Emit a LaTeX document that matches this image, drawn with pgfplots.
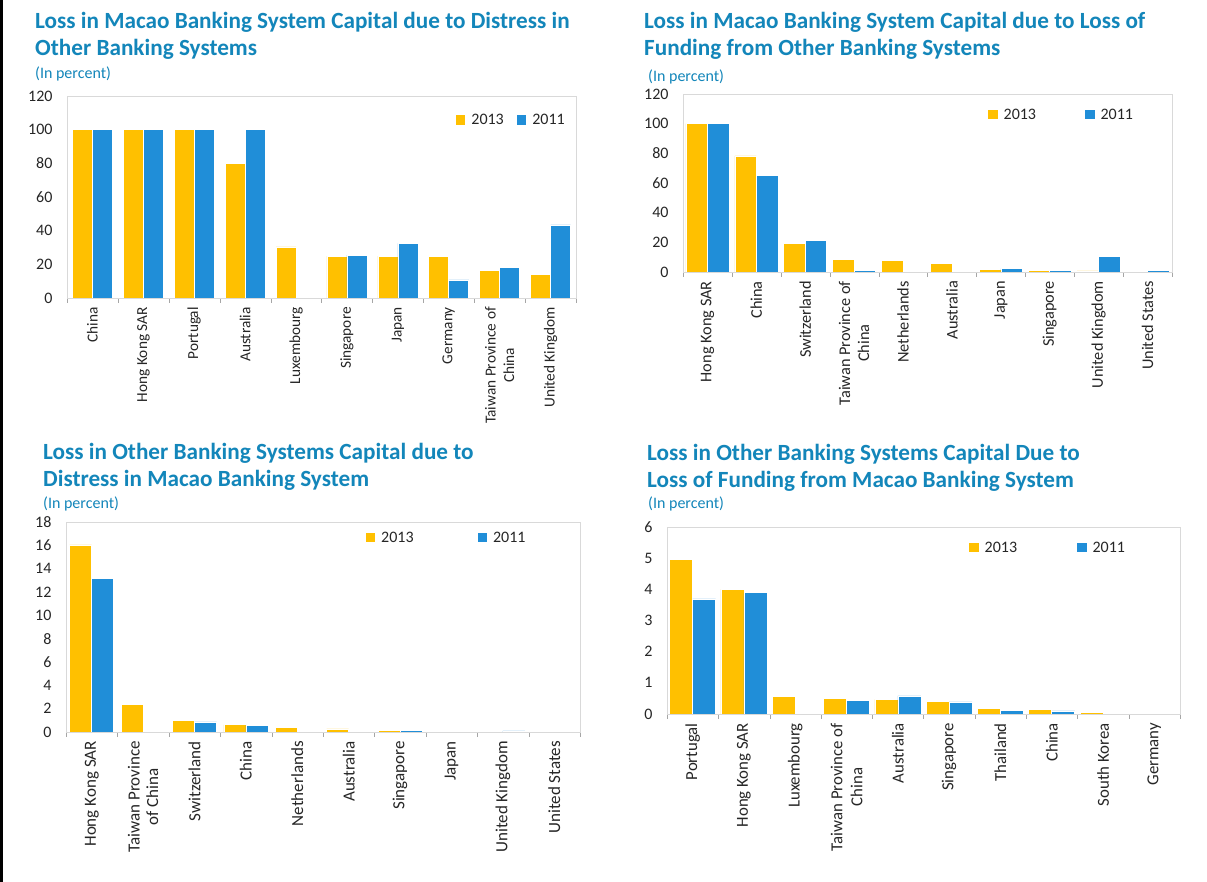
\documentclass[border=0pt]{standalone}
\usepackage{fontspec}
\setmainfont{Carlito}
\usepackage{pgfplots}
\pgfplotsset{compat=1.18}
\definecolor{ylw}{RGB}{255,192,0}
\definecolor{blu}{RGB}{32,142,216}
\definecolor{ttl}{RGB}{19,134,186}
\definecolor{frm}{RGB}{217,217,217}
\definecolor{axl}{RGB}{166,166,166}
\pgfplotsset{
  sq/.style={legend image code/.code={\path[##1,draw=none] (0pt,-4.5pt) rectangle (9.5pt,5pt);}},
  panel/.style={
    scale only axis, ybar=0pt, xmin=-0.5, xmax=9.5, ymin=0,
    axis line style={frm},
    xtick={0,...,9}, minor xtick={-0.5,0.5,...,9.5},
    major tick length=0pt, minor tick length=5pt,
    xtick align=outside, xtick pos=lower, ytick pos=left,
    minor x tick style={axl},
    ytick style={draw=none},
    /pgf/number format/assume math mode=true,
    tick label style={font=\fontsize{15}{18}\selectfont, text=black!85},
    yticklabel style={anchor=east, xshift=-11pt, font=\fontsize{16}{18}\selectfont},
    xticklabel style={rotate=90, anchor=east, align=center, inner xsep=9pt},
    legend columns=2,
    legend style={draw=none, fill=none, inner sep=0pt, outer sep=0pt, font=\fontsize{16}{18}\selectfont, text=black!85, anchor=west,
      cells={anchor=west},
      /tikz/every odd column/.append style={column sep=4pt}},
  },
  y13/.style={fill=ylw, draw=white, line width=0.6pt, sq},
  y11/.style={fill=blu, draw=white, line width=0.6pt, sq},
}
\newcommand{\ttlfont}{\fontsize{23.2}{27}\selectfont\bfseries\color{ttl}}
\newcommand{\subfont}{\fontsize{16}{18}\selectfont\color{ttl}}
\begin{document}
\begin{tikzpicture}[x=1pt,y=1pt]
\useasboundingbox (0pt,0pt) rectangle (1207pt,882pt);
\fill[white] (0pt,0pt) rectangle (1207pt,882pt);
\draw[line width=2.5pt] (1.25pt,0pt) -- (1.25pt,882pt);
% titles
\node[anchor=base west, inner sep=0pt, align=left, font=\ttlfont] at (35pt,826pt) {Loss in Macao Banking System Capital due to Distress in\\Other Banking Systems};
\node[anchor=base west, inner sep=0pt, font=\subfont] at (35pt,803pt) {(In percent)};
\node[anchor=base west, inner sep=0pt, align=left, font=\ttlfont] at (644pt,826pt) {Loss in Macao Banking System Capital due to Loss of\\Funding from Other Banking Systems};
\node[anchor=base west, inner sep=0pt, font=\subfont] at (648pt,800pt) {(In percent)};
\node[anchor=base west, inner sep=0pt, align=left, font=\ttlfont] at (43pt,395.5pt) {Loss in Other Banking Systems Capital due to\\Distress in Macao Banking System};
\node[anchor=base west, inner sep=0pt, font=\subfont] at (43pt,373pt) {(In percent)};
\node[anchor=base west, inner sep=0pt, align=left, font=\ttlfont] at (647pt,394.5pt) {Loss in Other Banking Systems Capital Due to\\Loss of Funding from Macao Banking System};
\node[anchor=base west, inner sep=0pt, font=\subfont] at (648pt,373pt) {(In percent)};

% Panel 1
\begin{axis}[panel, at={(67pt,584pt)}, anchor=south west, width=509pt, height=202pt,
  ymax=120, ytick={0,20,...,120}, bar width=20pt,
  xticklabel style={font=\fontsize{15.3}{18.3}\selectfont},
  xticklabels={China,Hong Kong SAR,Portugal,Australia,Luxembourg,Singapore,Japan,Germany,{Taiwan Province of\\China},United Kingdom},
  legend style={at={(0.764,0.881)}, /tikz/every even column/.append style={column sep=11pt}}]
\addplot[y13] coordinates {(0,100) (1,100) (2,100) (3,80) (4,30.4) (5,24.9) (6,24.9) (7,24.9) (8,16.2) (9,13.8)};
\addplot[y11] coordinates {(0,100) (1,100) (2,100) (3,100) (5,25.4) (6,32.5) (7,10.8) (8,18.3) (9,43.4)};
\legend{2013,2011}
\draw[axl] (rel axis cs:0,0) -- (rel axis cs:1,0);
\end{axis}

% Panel 2
\begin{axis}[panel, at={(683pt,610pt)}, anchor=south west, width=489pt, height=178pt,
  ymax=120, ytick={0,20,...,120}, bar width=21.5pt,
  xticklabel style={font=\fontsize{16.3}{19}\selectfont},
  xticklabels={Hong Kong SAR,China,Switzerland,{Taiwan Province of\\China},Netherlands,Australia,Japan,Singapore,United Kingdom,United States},
  legend style={at={(0.624,0.882)}, /tikz/every even column/.append style={column sep=47pt}}]
\addplot[y13] coordinates {(0,100) (1,78.2) (2,19.1) (3,8.3) (4,7.6) (5,5.6) (6,1.6) (7,0.9) (8,0.8)};
\addplot[y11] coordinates {(0,100) (1,64.9) (2,21.1) (3,0.9) (6,2.2) (7,0.9) (8,10.3) (9,0.9)};
\legend{2013,2011}
\draw[axl] (rel axis cs:0,0) -- (rel axis cs:1,0);
\end{axis}

% Panel 3
\begin{axis}[panel, at={(66pt,150pt)}, anchor=south west, width=514pt, height=210pt,
  ymax=18, ytick={0,2,...,18}, bar width=22pt,
  xticklabel style={font=\fontsize{17}{18.5}\selectfont},
  xticklabels={Hong Kong SAR,{Taiwan Province\\of China},Switzerland,China,Netherlands,Australia,Singapore,Japan,United Kingdom,United States},
  legend style={at={(0.583,0.924)}, /tikz/every even column/.append style={column sep=62pt}}]
\addplot[y13] coordinates {(0,16.03) (1,2.34) (2,0.97) (3,0.63) (4,0.4) (5,0.26) (6,0.17)};
\addplot[y11] coordinates {(0,13.17) (2,0.86) (3,0.57) (6,0.17) (8,0.09)};
\legend{2013,2011}
\draw[axl] (rel axis cs:0,0) -- (rel axis cs:1,0);
\end{axis}

% Panel 4
\begin{axis}[panel, at={(667pt,168pt)}, anchor=south west, width=513pt, height=187pt,
  ymax=6, ytick={0,1,...,6}, bar width=23pt,
  xticklabel style={font=\fontsize{16.8}{20}\selectfont},
  xticklabels={Portugal,Hong Kong SAR,Luxembourg,{Taiwan Province of\\China},Australia,Singapore,Thailand,China,South Korea,Germany},
  legend style={at={(0.589,0.888)}, /tikz/every even column/.append style={column sep=58pt}}]
\addplot[y13] coordinates {(0,4.95) (1,4.0) (2,0.56) (3,0.50) (4,0.47) (5,0.41) (6,0.18) (7,0.14) (8,0.06) (9,0.03)};
\addplot[y11] coordinates {(0,3.69) (1,3.89) (3,0.43) (4,0.58) (5,0.39) (6,0.12) (7,0.10) (8,0.03)};
\legend{2013,2011}
\draw[axl] (rel axis cs:0,0) -- (rel axis cs:1,0);
\end{axis}
\end{tikzpicture}
\end{document}
